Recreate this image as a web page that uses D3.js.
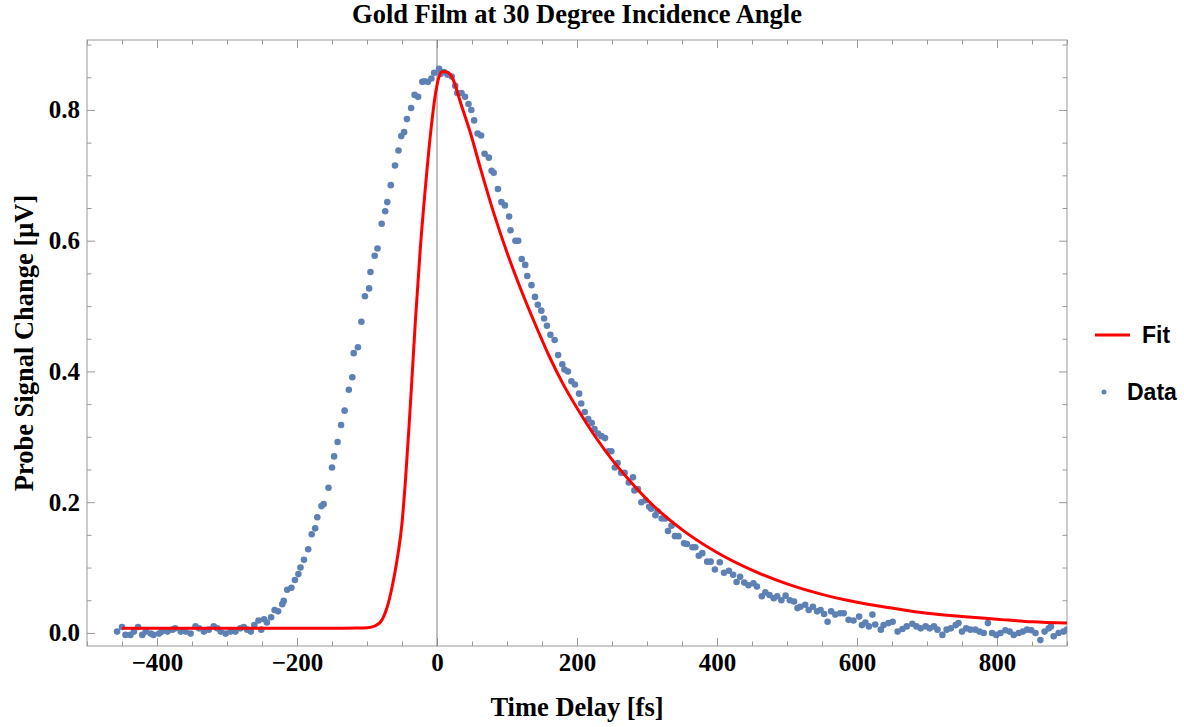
<!DOCTYPE html>
<html>
<head>
<meta charset="utf-8">
<script src="https://cdn.jsdelivr.net/npm/d3@7"></script>
<style>
  body { margin: 0; background: #fff; }
  text { font-family: "Liberation Serif", "Times New Roman", serif; }
</style>
</head>
<body>
<svg id="chart" width="1184" height="727"></svg>
<script>
// measured pump-probe trace (time delay in fs, signal in microvolts)
const delay = [
  -457, -450, -445, -438, -433, -427, -421, -416, -409, -405, -397, -393, -385, -378, -374, -366,
  -359, -352, -345, -340, -333, -326, -319, -314, -309, -302, -295, -288, -281, -276, -271, -266,
  -261, -255, -251, -247, -243, -237, -232, -227, -221, -219, -214, -208, -203, -198, -195, -190,
  -184, -179, -174, -171, -165, -162, -155, -150, -147, -142, -137, -132, -126,
  -121, -119, -113, -108, -103, -97, -95, -89, -85, -79, -74, -71, -66, -60, -55, -51,
  -47, -43, -37, -32, -27, -21, -18, -13, -8, -4, 3,
  5, 10, 15, 21, 26, 29, 35, 40, 45, 49, 53, 58, 63, 68, 74, 78, 81, 87, 92, 97,
  103, 105, 112, 116, 121, 126, 129, 135, 140, 144, 149, 153, 157, 162, 168, 173, 179, 182, 187,
  192, 197, 203, 206, 211, 216, 221, 225, 230, 235, 240, 245, 249, 254, 258, 263, 268, 274,
  280, 282, 287, 292, 298, 303, 306, 312, 315, 321, 326, 330, 335, 340, 345, 353, 357,
  365, 369, 374, 379, 386, 391, 397, 404, 410, 417, 423, 428, 433, 439, 445, 452, 457, 464,
  469, 475, 481, 486, 492, 498, 504, 510, 515, 519, 526, 531, 537, 543, 548, 553, 558, 563,
  569, 576,
  581, 588, 595, 603, 607, 612, 617, 622, 626, 634, 638, 645, 651, 658, 665, 671, 679, 685,
  691, 698, 704, 710, 715, 722, 728, 734, 741, 745, 750, 756, 762, 769, 775, 781, 787, 793,
  799, 805, 812, 818, 824, 831, 837, 843, 849, 855, 862, 868, 874, 877, 881, 888, 895, 900
];
const signal = [
  0.002, 0.009, -0.003, -0.003, 0.002, 0.009, -0.003, 0.002, -0.001, -0.003, -0.001, 0.002, 0.002, 0.005, 0.007, 0.002,
  0.002, -0.001, 0.010, 0.007, 0.002, 0.005, 0.010, 0.007, 0.002, -0.001, 0.002, 0.002, 0.007, 0.009, 0.005, 0.002,
  0.012, 0.019, 0.005, 0.021, 0.016, 0.024, 0.035, 0.033, 0.044, 0.049, 0.066, 0.069, 0.081, 0.090, 0.100, 0.112,
  0.128, 0.151, 0.160, 0.177, 0.194, 0.197, 0.222, 0.253, 0.270, 0.292, 0.318, 0.340, 0.372,
  0.391, 0.428, 0.437, 0.476, 0.515, 0.527, 0.552, 0.577, 0.588, 0.626, 0.645, 0.659, 0.685, 0.715, 0.738, 0.760,
  0.766, 0.786, 0.803, 0.823, 0.820, 0.843, 0.844, 0.843, 0.848, 0.857, 0.863,
  0.855, 0.858, 0.854, 0.851, 0.837, 0.826, 0.826, 0.820, 0.809, 0.800, 0.784, 0.764, 0.761, 0.733, 0.727, 0.707, 0.704, 0.679, 0.659, 0.654,
  0.637, 0.616, 0.600, 0.600, 0.572, 0.563, 0.546, 0.532, 0.514, 0.502, 0.493, 0.481, 0.470, 0.456, 0.448, 0.425, 0.411, 0.403, 0.400,
  0.385, 0.380, 0.366, 0.351, 0.338, 0.327, 0.321, 0.312, 0.305, 0.301, 0.298, 0.278, 0.278, 0.253, 0.260, 0.245, 0.245, 0.230,
  0.238, 0.218, 0.220, 0.200, 0.203, 0.193, 0.190, 0.180, 0.186, 0.175, 0.175, 0.156, 0.164, 0.148, 0.148, 0.137, 0.136,
  0.131, 0.131, 0.118, 0.122, 0.109, 0.109, 0.097, 0.108, 0.092, 0.095, 0.089, 0.078, 0.086, 0.077, 0.073, 0.076, 0.071, 0.056,
  0.062, 0.058, 0.053, 0.056, 0.050, 0.057, 0.050, 0.048, 0.038, 0.040, 0.043, 0.035, 0.040, 0.033, 0.035, 0.029, 0.017, 0.033,
  0.028, 0.030,
  0.030, 0.020, 0.019, 0.025, 0.012, 0.016, 0.010, 0.028, 0.013, 0.005, 0.012, 0.015, 0.017, 0.002, 0.006, 0.010, 0.014, 0.010,
  0.007, 0.010, 0.007, 0.010, 0.005, -0.003, 0.005, 0.007, 0.012, 0.015, 0.002, 0.007, 0.005, 0.005, 0.002, 0.000, 0.015, 0.000,
  -0.003, 0.000, 0.004, 0.002, -0.003, 0.000, 0.002, 0.005, 0.004, 0.000, -0.011, 0.002, 0.007, 0.010, -0.005, 0.000, 0.002, 0.005
];

// fitted curve, sampled off the plot
const fitDelay = [-450, -300, -150, -115, -100, -88, -78, -71, -64, -57, -50, -45, -40, -36, -31, -24, -16, -9, -2, 3, 8, 14, 22,
  34, 48, 62, 80, 100, 120, 140, 160, 180, 200,
  225, 250, 275, 300, 350, 400, 450, 500, 550, 600, 650, 700, 750, 800, 850, 900];
const fitSignal = [0.007, 0.007, 0.007, 0.0075, 0.008, 0.011, 0.021, 0.040, 0.071, 0.112, 0.168, 0.234, 0.315, 0.385, 0.475, 0.586, 0.688, 0.766, 0.826, 0.851, 0.859, 0.858, 0.849,
  0.810, 0.764, 0.711, 0.646, 0.582, 0.525, 0.473, 0.424, 0.381, 0.344,
  0.302, 0.265, 0.233, 0.204, 0.158, 0.123, 0.096, 0.075, 0.059, 0.047, 0.038, 0.030, 0.025, 0.021, 0.017, 0.015];

const xTicks = [-400, -200, 0, 200, 400, 600, 800];
const yTicks = [0.0, 0.2, 0.4, 0.6, 0.8];
const legendItems = ["Fit", "Data"];

const dotColor = "#5e81b5";
const fitColor = "#ff0000";
const frameColor = "#999999";

const svg = d3.select("#chart");
const frameL = 87, frameR = 1067, frameT = 40, frameB = 646;

const x = d3.scaleLinear().domain([-500, 900]).range([frameL, frameR]);
const y = d3.scaleLinear().domain([-0.02, 0.907]).range([frameB, frameT]);

const xMinor = d3.range(-500, 901, 50).filter(v => !xTicks.includes(v));
const yMinor = d3.range(0, 0.91, 0.05).map(v => +v.toFixed(2)).filter(v => !yTicks.some(t => Math.abs(t - v) < 1e-9));

function frameAxis(g, axis) {
  g.call(axis);
  g.select(".domain").remove();
  g.selectAll(".tick line").attr("stroke", frameColor).attr("stroke-width", 1);
  g.selectAll(".tick text")
    .attr("fill", "#000")
    .attr("font-size", 25)
    .attr("font-weight", "bold")
    .attr("font-family", "'Liberation Serif', 'Times New Roman', serif");
}

// major / minor ticks on all four sides, pointing inward
frameAxis(svg.append("g").attr("transform", `translate(0,${frameB})`),
  d3.axisBottom(x).tickValues(xTicks).tickSize(-8).tickPadding(7).tickFormat(d3.format("d")));
frameAxis(svg.append("g").attr("transform", `translate(0,${frameB})`),
  d3.axisBottom(x).tickValues(xMinor).tickSize(-4.5).tickFormat(""));
frameAxis(svg.append("g").attr("transform", `translate(0,${frameT})`),
  d3.axisTop(x).tickValues(xTicks).tickSize(-8).tickFormat(""));
frameAxis(svg.append("g").attr("transform", `translate(0,${frameT})`),
  d3.axisTop(x).tickValues(xMinor).tickSize(-4.5).tickFormat(""));
frameAxis(svg.append("g").attr("transform", `translate(${frameL},0)`),
  d3.axisLeft(y).tickValues(yTicks).tickSize(-8).tickPadding(7).tickFormat(d3.format(".1f")));
frameAxis(svg.append("g").attr("transform", `translate(${frameL},0)`),
  d3.axisLeft(y).tickValues(yMinor).tickSize(-4.5).tickFormat(""));
frameAxis(svg.append("g").attr("transform", `translate(${frameR},0)`),
  d3.axisRight(y).tickValues(yTicks).tickSize(-8).tickFormat(""));
frameAxis(svg.append("g").attr("transform", `translate(${frameR},0)`),
  d3.axisRight(y).tickValues(yMinor).tickSize(-4.5).tickFormat(""));

// frame
svg.append("rect")
  .attr("x", frameL).attr("y", frameT)
  .attr("width", frameR - frameL).attr("height", frameB - frameT)
  .attr("fill", "none").attr("stroke", frameColor).attr("stroke-width", 1);

// zero-delay line
svg.append("line")
  .attr("x1", x(0)).attr("x2", x(0))
  .attr("y1", frameT).attr("y2", frameB)
  .attr("stroke", "#808080").attr("stroke-width", 1);

const plot = svg.append("g");
plot.append("clipPath").attr("id", "clip")
  .append("rect").attr("x", frameL).attr("y", frameT).attr("width", frameR - frameL).attr("height", frameB - frameT);

// data points
plot.append("g")
  .attr("clip-path", "url(#clip)")
  .selectAll("circle")
  .data(delay.map((t, i) => [t, signal[i]]))
  .enter()
  .append("circle")
  .attr("cx", d => x(d[0]))
  .attr("cy", d => y(d[1]))
  .attr("r", 3.3)
  .attr("fill", dotColor);

// fit
const line = d3.line()
  .curve(d3.curveMonotoneX)
  .x(d => x(d[0]))
  .y(d => y(d[1]));

plot.append("path")
  .attr("clip-path", "url(#clip)")
  .attr("d", line(fitDelay.map((t, i) => [t, fitSignal[i]])))
  .attr("fill", "none")
  .attr("stroke", fitColor)
  .attr("stroke-width", 3);

// titles
svg.append("text")
  .attr("x", (frameL + frameR) / 2).attr("y", 23)
  .attr("text-anchor", "middle")
  .attr("font-size", 26.5).attr("font-weight", "bold")
  .text("Gold Film at 30 Degree Incidence Angle");

svg.append("text")
  .attr("x", (frameL + frameR) / 2).attr("y", 716)
  .attr("text-anchor", "middle")
  .attr("font-size", 26.5).attr("font-weight", "bold")
  .text("Time Delay [fs]");

svg.append("text")
  .attr("transform", `translate(33,${(frameT + frameB) / 2}) rotate(-90)`)
  .attr("text-anchor", "middle")
  .attr("font-size", 26.5).attr("font-weight", "bold")
  .text("Probe Signal Change [μV]");

// legend
const legend = svg.append("g")
  .attr("font-family", "'Liberation Sans', Arial, sans-serif")
  .attr("font-weight", "bold")
  .attr("font-size", 23);

legend.append("line")
  .attr("x1", 1095).attr("x2", 1130).attr("y1", 335).attr("y2", 335)
  .attr("stroke", fitColor).attr("stroke-width", 3);
legend.append("text")
  .attr("x", 1142).attr("y", 335).attr("dy", "0.35em")
  .style("font-family", "'Liberation Sans', Arial, sans-serif")
  .text(legendItems[0]);

legend.append("circle")
  .attr("cx", 1104).attr("cy", 392).attr("r", 2.5)
  .attr("fill", dotColor);
legend.append("text")
  .attr("x", 1127).attr("y", 392).attr("dy", "0.35em")
  .style("font-family", "'Liberation Sans', Arial, sans-serif")
  .text(legendItems[1]);
</script>
</body>
</html>
